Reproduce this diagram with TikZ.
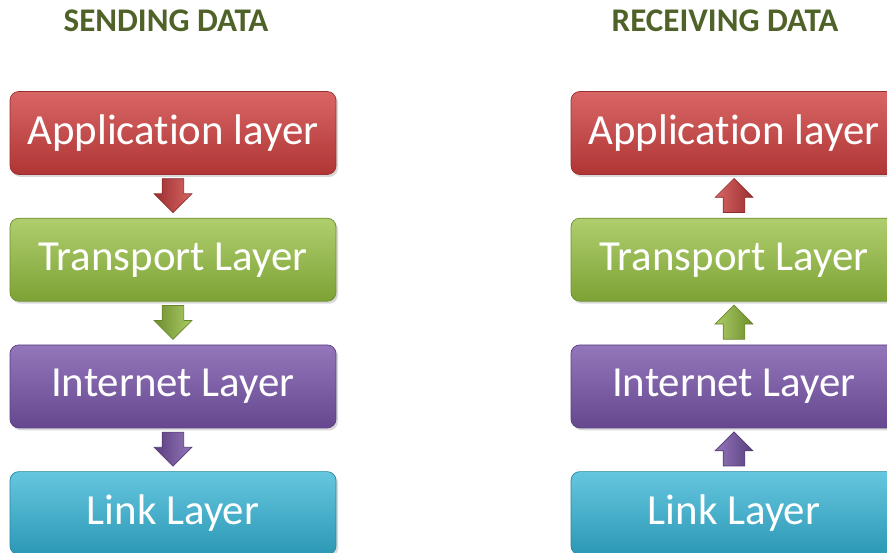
\documentclass[tikz,border=0pt]{standalone}
\usepackage{fontspec}
\setmainfont{Carlito}[Ligatures=NoCommon]
\usetikzlibrary{positioning,shapes.arrows,shadows}
\definecolor{appred}{HTML}{CE3F3E}
\definecolor{trgreen}{HTML}{94BE3E}
\definecolor{inpurple}{HTML}{7854A9}
\definecolor{lkaqua}{HTML}{33B3D5}
\definecolor{titlegreen}{HTML}{4F6228}
\tikzstyle{title} = [text=titlegreen, font=\fontsize{18.8}{22}\selectfont\bfseries]
\tikzstyle{layer} = [rectangle, rounded corners=5pt, minimum width=6.52cm,
    minimum height=1.66cm, text=white, font=\fontsize{24.4}{28}\selectfont,
    drop shadow={opacity=0.3, shadow xshift=0.04cm, shadow yshift=-0.05cm}]
\tikzstyle{blockarrow} = [single arrow, inner sep=0.21cm, minimum height=0.68cm,
    single arrow head extend=0.16cm, single arrow head indent=0pt, anchor=tail]
\tikzset{
  red layer/.style={layer, top color=appred!80!white, middle color=appred, bottom color=appred!85!black, draw=appred!75!black},
  green layer/.style={layer, top color=trgreen!75!white, middle color=trgreen, bottom color=trgreen!85!black, draw=trgreen!75!black},
  purple layer/.style={layer, top color=inpurple!80!white, middle color=inpurple, bottom color=inpurple!85!black, draw=inpurple!75!black},
  aqua layer/.style={layer, top color=lkaqua!75!white, middle color=lkaqua, bottom color=lkaqua!85!black, draw=lkaqua!75!black},
  down/.style={blockarrow, shape border rotate=270, left color=#1!75!black, right color=#1!80!white, draw=#1!70!black},
  up/.style={blockarrow, shape border rotate=90, left color=#1!80!white, right color=#1!75!black, draw=#1!70!black}
}

\begin{document}
\begin{tikzpicture}[node distance = 0.86cm, auto]
    \useasboundingbox (0,0) rectangle (17.74,-11.06);
    % sending side
    \node [title] (send) at (3.32,-0.42) {SENDING DATA};
    \node [red layer] (app1) at (3.46,-2.66) {Application layer};
    \node [green layer, below=of app1] (tra1) {Transport Layer};
    \node [purple layer, below=of tra1] (int1) {Internet Layer};
    \node [aqua layer, below=of int1] (lnk1) {Link Layer};
    \node [down=appred] (da1) at ([yshift=-0.07cm]app1.south) {};
    \node [down=trgreen] (da2) at ([yshift=-0.07cm]tra1.south) {};
    \node [down=inpurple] (da3) at ([yshift=-0.07cm]int1.south) {};
    % receiving side
    \node [title] (recv) at (14.5,-0.42) {RECEIVING DATA};
    \node [red layer] (app2) at (14.68,-2.66) {Application layer};
    \node [green layer, below=of app2] (tra2) {Transport Layer};
    \node [purple layer, below=of tra2] (int2) {Internet Layer};
    \node [aqua layer, below=of int2] (lnk2) {Link Layer};
    \node [up=appred] (ua1) at ([yshift=0.1cm]tra2.north) {};
    \node [up=trgreen] (ua2) at ([yshift=0.1cm]int2.north) {};
    \node [up=inpurple] (ua3) at ([yshift=0.1cm]lnk2.north) {};
\end{tikzpicture}
\end{document}
